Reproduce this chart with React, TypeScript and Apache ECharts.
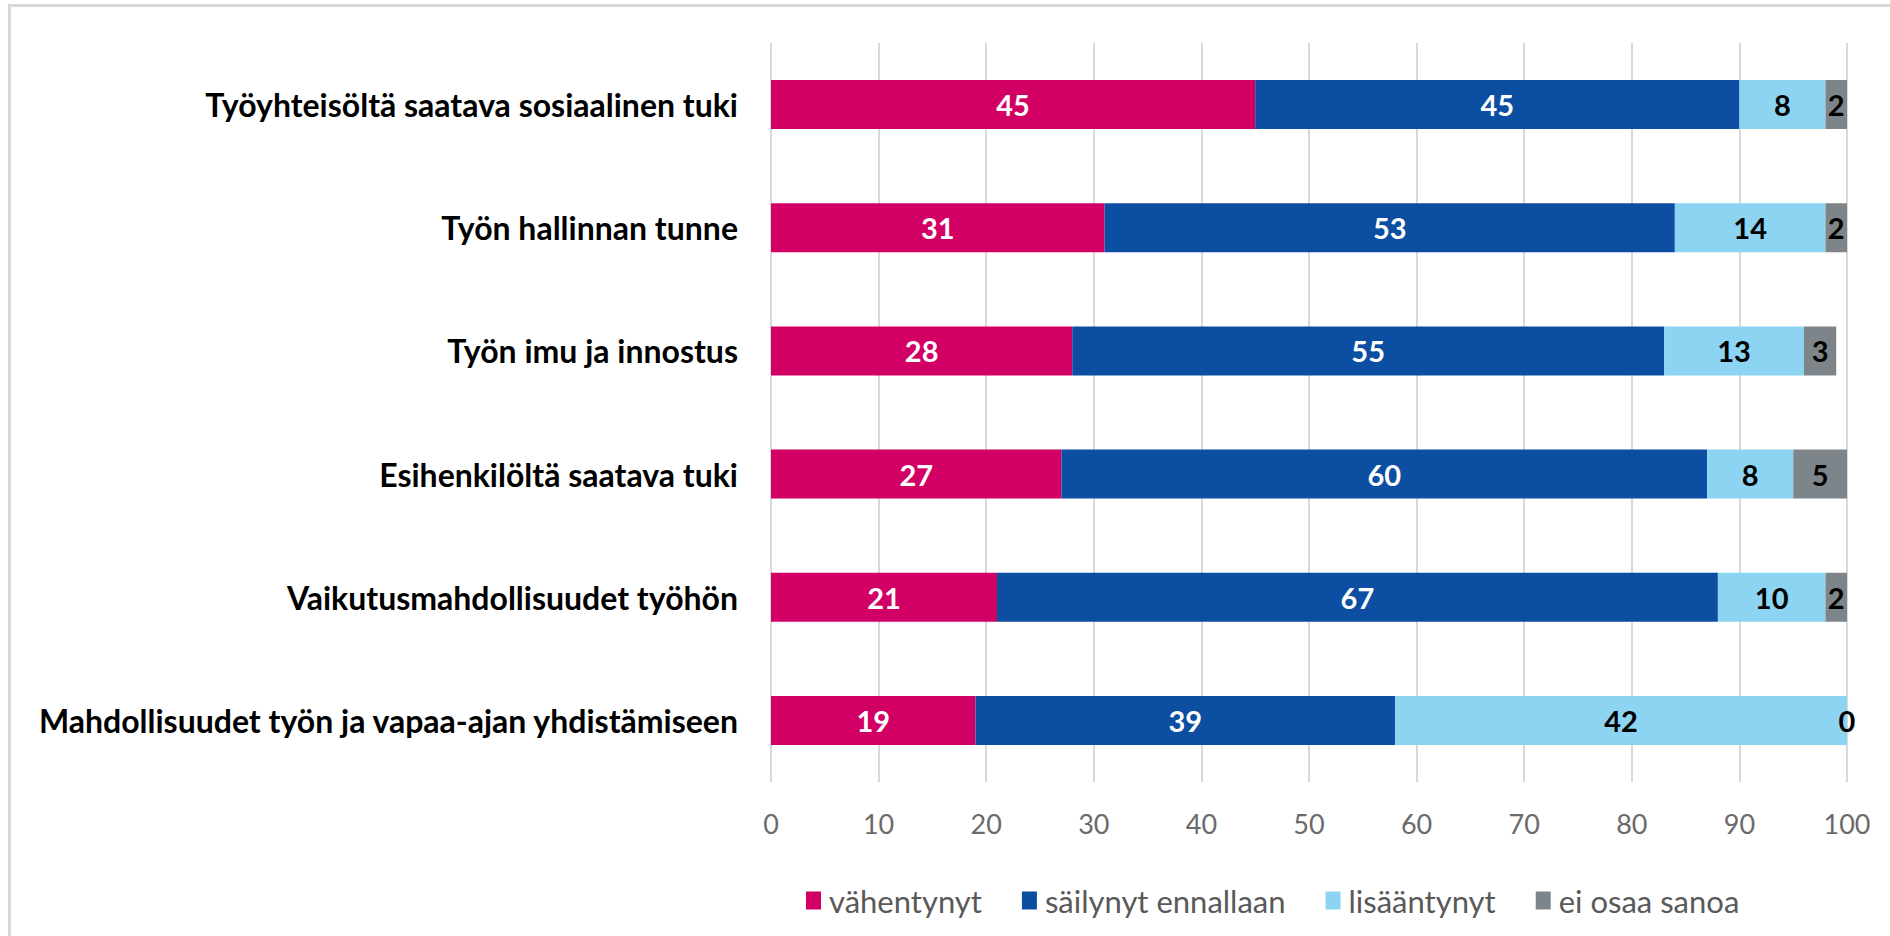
import React, { useEffect, useRef } from "react";
import * as echarts from "echarts";

const categories = [
  "Työyhteisöltä saatava sosiaalinen tuki",
  "Työn hallinnan tunne",
  "Työn imu ja innostus",
  "Esihenkilöltä saatava tuki",
  "Vaikutusmahdollisuudet työhön",
  "Mahdollisuudet työn ja vapaa-ajan yhdistämiseen",
];
const seriesNames = ["vähentynyt", "säilynyt ennallaan", "lisääntynyt", "ei osaa sanoa"];
const vahentynyt = [45, 31, 28, 27, 21, 19];
const sailynyt = [45, 53, 55, 60, 67, 39];
const lisaantynyt = [8, 14, 13, 8, 10, 42];
const eiOsaa = [2, 2, 3, 5, 2, 0];
const xTicks = { min: 0, max: 100, interval: 10 };

const colors = ["#D20064", "#0B4EA2", "#8CD4F1", "#7D858A"];
const labelColors = ["#ffffff", "#ffffff", "#000000", "#000000"];
const FONT = "Lato, 'DejaVu Sans', sans-serif";

export default function App() {
  const ref = useRef<HTMLDivElement>(null);
  useEffect(() => {
    if (!ref.current) return;
    const chart = echarts.init(ref.current, undefined, { renderer: "svg" });
    const dataSets = [vahentynyt, sailynyt, lisaantynyt, eiOsaa];
    chart.setOption({
      animation: false,
      backgroundColor: "#ffffff",
      textStyle: { fontFamily: FONT },
      grid: { left: 771, right: 43, top: 43, bottom: 154, containLabel: false },
      legend: {
        data: seriesNames,
        left: 801,
        top: 880,
        icon: "rect",
        itemWidth: 15,
        itemHeight: 18,
        itemGap: 40,
        textStyle: { color: "#595959", fontSize: 31, fontFamily: FONT, padding: [0, 0, 0, 3] },
      },
      xAxis: {
        type: "value",
        min: xTicks.min,
        max: xTicks.max,
        interval: xTicks.interval,
        axisLine: { show: false },
        axisTick: { show: false },
        splitLine: { show: true, lineStyle: { color: "#d9d9d9", width: 2 } },
        axisLabel: { color: "#6a6a6a", fontSize: 27, margin: 28, fontFamily: FONT },
      },
      yAxis: {
        type: "category",
        inverse: true,
        data: categories,
        axisLine: { show: false },
        axisTick: { show: false },
        axisLabel: { color: "#000000", fontSize: 32, fontWeight: "bold", margin: 33, fontFamily: FONT },
      },
      graphic: [
        { type: "line", shape: { x1: 8, y1: 5.5, x2: 1890, y2: 5.5 }, style: { stroke: "#d9d9d9", lineWidth: 3 }, silent: true },
        { type: "line", shape: { x1: 9.5, y1: 4, x2: 9.5, y2: 936 }, style: { stroke: "#d9d9d9", lineWidth: 3 }, silent: true },
      ],
      series: dataSets.map((d, i) => ({
        name: seriesNames[i],
        type: "bar",
        stack: "total",
        barWidth: 49,
        data: d,
        itemStyle: { color: colors[i] },
        label: {
          show: true,
          position: "inside",
          color: labelColors[i],
          fontSize: 29,
          fontWeight: "bold",
          fontFamily: FONT,
          textBorderWidth: 0,
        },
      })),
    });
    return () => chart.dispose();
  }, []);
  return (
    <div
      ref={ref}
      style={{ position: "fixed", left: 0, top: 0, width: 1890, height: 936, background: "#fff" }}
    />
  );
}
